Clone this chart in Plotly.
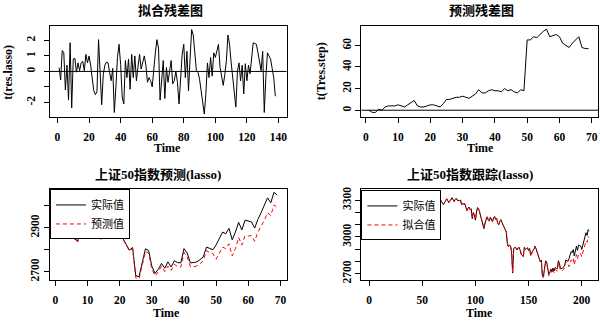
import plotly.graph_objects as go

# ---------------- data ----------------
res_lasso = [0.25, -0.55, 1.35, 1.2, -1.2, 0.4, -1.85, 1.85, -2.35, 0.8,
             0.85, -0.05, 0.55, 0.05, 0.55, 0.65, 0.05, 1.1, 0.55, 1.0,
             0.4, -0.6, -1.25, -1.5, -1.3, 2.05, -0.3, -2.15, -0.2, 0.4,
             0.6, 0.55, -0.05, -0.6, 0.2, -2.65, -1.0, 0.9, 1.75, 0.45,
             -1.65, -2.1, 0.7, -0.4, 0.8, -1.15, 1.1, -0.4, 1.0, -0.6,
             0.3, 1.1, 0.15, 0.7, 1.0, 0.4, -0.7, -0.4, -0.6, -1.0,
             0.25, 1.2, 2.05, 1.5, -1.85, -0.8, 0.7, -1.75, 0.25, -0.7,
             0.1, 0.7, -0.8, -0.6, 0.0, -0.7, -2.1, -0.8, 1.1, 1.75,
             -0.4, 1.3, -1.25, 0.8, 2.7, 2.35, 1.2, 0.05, -0.05, -0.5,
             -1.25, -2.1, -2.75, -1.45, 0.55, -0.4, 0.9, -0.3, 1.2, 0.9,
             1.3, 1.75, 0.25, -0.5, -0.9, -0.2, 0.7, 2.35, 1.75, 0.6,
             -0.3, -1.2, -2.3, 0.0, 0.55, -0.6, 0.4, -1.45, 0.5, -0.6,
             0.4, -0.15, 0.8, 1.85, 1.8, 1.75, 1.2, 0.7, 0.05, 1.3,
             -2.65, -0.4, 1.2, 1.0, 0.8, 0.2, -0.4, -1.6]

res_step = [0, -2, -2, 1, 0, 3, 4, 4, 4, 5,
            4, 3, 5, 7, 9, 4, 3, 3, 4, 5,
            5, 4, 3, 6, 10, 10, 11, 12, 12, 13,
            12, 11, 13, 15, 19, 16, 16, 18, 19, 18,
            18, 17, 20, 18, 19, 17, 16, 19, 18, 65,
            65, 68, 67, 70, 73, 75, 68, 69, 70, 68,
            62, 60, 58, 62, 65, 68, 58, 57, 57]

actual_test = [2894, 2908, 2915, 2894, 2857, 2850, 2840, 2915, 2896, 2905,
               2912, 2890, 2905, 2850, 2880, 2890, 2898, 2925, 2905, 2878,
               2850, 2822, 2798, 2810, 2682, 2678, 2745, 2804, 2797, 2725,
               2693, 2711, 2738, 2716, 2745, 2722, 2750, 2742, 2740, 2805,
               2785, 2740, 2742, 2745, 2755, 2768, 2812, 2805, 2800, 2822,
               2850, 2880, 2872, 2897, 2845, 2880, 2924, 2890, 2934, 2930,
               2926, 2898, 2938, 2968, 2998, 3035, 3013, 3060, 3048]

pred_test = [2894, 2910, 2917, 2893, 2857, 2847, 2836, 2911, 2892, 2900,
             2908, 2887, 2900, 2843, 2871, 2886, 2895, 2922, 2901, 2873,
             2845, 2818, 2795, 2804, 2672, 2668, 2734, 2792, 2785, 2712,
             2681, 2700, 2725, 2701, 2726, 2706, 2734, 2724, 2721, 2787,
             2767, 2723, 2722, 2727, 2736, 2751, 2796, 2786, 2782, 2757,
             2785, 2812, 2805, 2827, 2772, 2805, 2856, 2821, 2864, 2862,
             2864, 2838, 2880, 2906, 2933, 2967, 2955, 3003, 2991]

actual_train = [3098, 3072, 3105, 3130, 3104, 3090, 3125, 3140, 3155, 3150,
                3172, 3165, 3190, 3185, 3210, 3198, 3222, 3240, 3228, 3250,
                3236, 3262, 3255, 3270, 3248, 3275, 3290, 3280, 3302, 3295,
                3310, 3288, 3305, 3322, 3315, 3330, 3312, 3335, 3342, 3328,
                3350, 3338, 3355, 3362, 3346, 3340, 3352, 3330, 3318, 3335,
                3322, 3300, 3315, 3308, 3290, 3305, 3320, 3312, 3296, 3282,
                3300, 3315, 3298, 3285, 3270, 3290, 3305, 3292, 3278, 3265,
                3284, 3300, 3312, 3296, 3280, 3295, 3310, 3322, 3305, 3290,
                3308, 3318, 3300, 3296, 3298, 3302, 3262, 3275, 3268, 3272,
                3240, 3216, 3235, 3245, 3222, 3230, 3150, 3200, 3180, 3138,
                3205, 3240, 3232, 3200, 3185, 3140, 3110, 3068, 3115, 3150,
                3165, 3140, 3130, 3162, 3148, 3125, 3158, 3168, 3145, 3152,
                3110, 3100, 3128, 3142, 3118, 3100, 3080, 3068, 3040, 2948,
                2920, 2935, 2925, 2880, 2705, 2905, 2915, 2912]

fitted_train = [3098, 3073, 3104, 3129, 3105, 3090, 3127, 3138, 3157, 3149,
                3171, 3165, 3189, 3185, 3209, 3197, 3222, 3239, 3227, 3249,
                3236, 3263, 3256, 3272, 3249, 3273, 3290, 3282, 3302, 3295,
                3309, 3288, 3305, 3323, 3315, 3332, 3313, 3334, 3340, 3328,
                3352, 3340, 3354, 3361, 3347, 3341, 3351, 3330, 3317, 3336,
                3322, 3299, 3315, 3307, 3289, 3305, 3321, 3312, 3297, 3283,
                3300, 3314, 3296, 3284, 3272, 3291, 3304, 3294, 3278, 3266,
                3284, 3299, 3313, 3296, 3280, 3296, 3312, 3321, 3304, 3288,
                3308, 3319, 3299, 3297, 3295, 3300, 3261, 3276, 3269, 3271,
                3241, 3218, 3234, 3245, 3223, 3231, 3152, 3199, 3181, 3139,
                3204, 3238, 3232, 3201, 3186, 3141, 3110, 3070, 3117, 3150,
                3164, 3141, 3129, 3161, 3148, 3126, 3157, 3166, 3144, 3152,
                3111, 3100, 3127, 3140, 3117, 3101, 3081, 3067, 3041, 2947,
                2923, 2934, 2924, 2882, 2708, 2904, 2915, 2914]

titles = ["拟合残差图", "预测残差图", "上证50指数预测(lasso)", "上证50指数跟踪(lasso)"]
legend_names_pred = ["实际值", "预测值"]
legend_names_fit = ["实际值", "拟合值"]

x_ticks_1 = [0, 20, 40, 60, 80, 100, 120, 140]
x_ticks_2 = [0, 10, 20, 30, 40, 50, 60, 70]
x_ticks_4 = [0, 50, 100, 150, 200]
y_ticks_1 = [-2, -1, 0, 1, 2]
y_text_1 = ["-2", "", "0", "1", "2"]
y_ticks_2 = [0, 20, 40, 60]
y_ticks_3 = [2700, 2800, 2900, 3000]
y_text_3 = ["2700", "", "2900", ""]
y_ticks_4 = [2700, 2800, 2900, 3000, 3100, 3200, 3300]
y_text_4 = ["2700", "", "", "3000", "", "", "3300"]

# ---------------- figure ----------------
W, H = 600, 323
SERIF = "Liberation Serif, Noto Sans CJK SC"


def px(x):
    return x / W


def py(y):
    return 1 - y / H


t1 = list(range(1, len(res_lasso) + 1))
t2 = list(range(1, len(res_step) + 1))
t3 = list(range(1, len(actual_test) + 1))
full_actual = actual_train + actual_test
full_fitted = fitted_train + pred_test
t4 = list(range(1, len(full_actual) + 1))

fig = go.Figure()
blk = dict(color="black", width=1)
red = dict(color="#FF0000", width=1, dash="4px,3px")

fig.add_trace(go.Scatter(x=t1, y=res_lasso, mode="lines", line=blk, showlegend=False, xaxis="x", yaxis="y"))
# empty helper trace so that the label-only axis of panel 1 is drawn
fig.add_trace(go.Scatter(x=[], y=[], mode="lines", showlegend=False, hoverinfo="skip", xaxis="x", yaxis="y5"))
fig.add_trace(go.Scatter(x=t2, y=res_step, mode="lines", line=blk, showlegend=False, xaxis="x2", yaxis="y2"))
fig.add_trace(go.Scatter(x=t3, y=actual_test, mode="lines", line=blk, name=legend_names_pred[0],
                         xaxis="x3", yaxis="y3", legend="legend"))
fig.add_trace(go.Scatter(x=t3, y=pred_test, mode="lines", line=red, name=legend_names_pred[1],
                         xaxis="x3", yaxis="y3", legend="legend"))
fig.add_trace(go.Scatter(x=t4, y=full_actual, mode="lines", line=blk, name=legend_names_fit[0],
                         xaxis="x4", yaxis="y4", legend="legend2"))
fig.add_trace(go.Scatter(x=t4, y=full_fitted, mode="lines", line=red, name=legend_names_fit[1],
                         xaxis="x4", yaxis="y4", legend="legend2"))

tickfont = dict(family="Liberation Serif", size=11.5, color="black", weight="bold")
common = dict(showline=True, mirror=True, linecolor="black", linewidth=1, ticks="outside",
              ticklen=5, tickwidth=1, tickcolor="black", showgrid=False, zeroline=False,
              tickfont=tickfont)

dom_x_left = [px(50), px(287)]
dom_x_right = [px(362), px(599)]
dom_y_top = [py(117), py(24)]
dom_y_bot = [py(283), py(191)]

xcommon = dict(common, ticklabelstandoff=4)
ycommon = dict(common, tickangle=-90)
y1_range = [-2.93, 2.96]

fig.update_layout(
    width=W, height=H, margin=dict(l=0, r=0, t=0, b=0),
    paper_bgcolor="white", plot_bgcolor="white",
    xaxis=dict(xcommon, domain=dom_x_left, anchor="y", range=[-4.8, 145.1], tickvals=x_ticks_1),
    yaxis=dict(ycommon, domain=dom_y_top, anchor="x", range=y1_range, tickvals=y_ticks_1,
               showticklabels=False),
    yaxis5=dict(domain=dom_y_top, overlaying="y", anchor="free", position=px(37), side="left",
                range=y1_range, tickvals=y_ticks_1, ticktext=y_text_1, tickangle=-90,
                showline=False, ticks="", showgrid=False, zeroline=False, tickfont=tickfont),
    xaxis2=dict(xcommon, domain=dom_x_right, anchor="y2", range=[-1.36, 71.95], tickvals=x_ticks_2),
    yaxis2=dict(ycommon, domain=dom_y_top, anchor="x2", range=[-6.1, 78.3], tickvals=y_ticks_2),
    xaxis3=dict(xcommon, domain=dom_x_left, anchor="y3", range=[-1.72, 71.9], tickvals=x_ticks_2),
    yaxis3=dict(ycommon, domain=dom_y_bot, anchor="x3", range=[2664, 3073], tickvals=y_ticks_3, ticktext=y_text_3),
    xaxis4=dict(xcommon, domain=dom_x_right, anchor="y4", range=[-7.3, 215.3], tickvals=x_ticks_4),
    yaxis4=dict(ycommon, domain=dom_y_bot, anchor="x4", range=[2650, 3389], tickvals=y_ticks_4, ticktext=y_text_4),
    legend=dict(x=px(50), y=py(191), xanchor="left", yanchor="top", bgcolor="white",
                bordercolor="black", borderwidth=1, tracegroupgap=0,
                font=dict(family="Noto Sans CJK SC", size=11, color="black")),
    legend2=dict(x=px(362), y=py(192), xanchor="left", yanchor="top", bgcolor="white",
                 bordercolor="black", borderwidth=1, tracegroupgap=0,
                 font=dict(family="Noto Sans CJK SC", size=11, color="black")),
    shapes=[
        dict(type="line", xref="x domain", x0=0, x1=1, yref="y", y0=0, y1=0, line=dict(color="black", width=1)),
        dict(type="line", xref="x2 domain", x0=0, x1=1, yref="y2", y0=0, y1=0, line=dict(color="black", width=1)),
    ],
)

title_font = dict(family=SERIF, size=13, color="black", weight="bold")
lab_font = dict(family="Liberation Serif", size=12, color="black", weight="bold")
ann = []
for txt, x, y in [(titles[0], 171, 9), (titles[1], 482, 9), (titles[2], 158, 176), (titles[3], 471, 176)]:
    ann.append(dict(text=txt, x=px(x), y=py(y), xref="paper", yref="paper", showarrow=False,
                    xanchor="center", yanchor="middle", font=title_font))
for x, y in [(168, 149), (481, 149), (167, 317), (480, 317)]:
    ann.append(dict(text="Time", x=px(x), y=py(y), xref="paper", yref="paper", showarrow=False,
                    xanchor="center", yanchor="middle", font=lab_font))
ann.append(dict(text="t(res.lasso)", x=px(8), y=py(71), xref="paper", yref="paper", showarrow=False,
                textangle=-90, xanchor="center", yanchor="middle", font=lab_font))
ann.append(dict(text="t(Tres.step)", x=px(321), y=py(70), xref="paper", yref="paper", showarrow=False,
                textangle=-90, xanchor="center", yanchor="middle", font=lab_font))
fig.update_layout(annotations=ann)

fig.write_html("out.html", config={"displayModeBar": False},
               post_script="document.body.style.margin='0';document.body.style.overflow='hidden';")
